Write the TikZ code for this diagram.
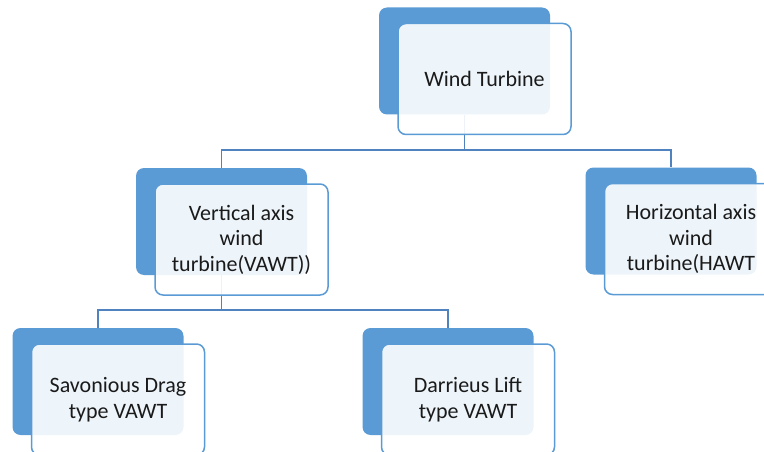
\documentclass[tikz,border=0pt]{standalone}
\usepackage{fontspec}
\setmainfont{Carlito}
\usetikzlibrary{positioning}
\definecolor{boxblue}{HTML}{5B9BD5}
\definecolor{lineblue}{HTML}{5182C0}
\definecolor{textgray}{HTML}{1A1A1A}
\tikzset{
  backbox/.style={fill=boxblue, rounded corners=8pt, minimum width=171pt, minimum height=107pt, inner sep=0pt},
  frontbox/.style={draw=boxblue, line width=1.5pt, fill=white, fill opacity=0.9, text opacity=1,
    rounded corners=8pt, minimum width=173pt, minimum height=111pt, inner sep=0pt,
    align=center, text=textgray, font=\fontsize{22}{25.5}\selectfont, xshift=20pt, yshift=-18pt},
  conn/.style={draw=lineblue, line width=1.7pt},
}
\begin{document}
\begin{tikzpicture}[x=1pt, y=-1pt]
        \useasboundingbox (0,0) rectangle (764,452);
        \clip (0,0) rectangle (764,452);

        % blue back plates
        \node[backbox] (wtback) at (464.5,61) {};
        \node[backbox] (vawtback) at (221.5,221.5) {};
        \node[backbox] (hawtback) at (671,221) {};
        \node[backbox] (savback) at (98,381.5) {};
        \node[backbox] (darback) at (448,381.5) {};

        % connectors
        \draw[conn] (wtback.south) -- ++(0,35) -| (vawtback.north);
        \draw[conn] (wtback.south) -- ++(0,35) -| (hawtback.north);
        \draw[conn] (vawtback.south) -- ++(0,35) -| (savback.north);
        \draw[conn] (vawtback.south) -- ++(0,35) -| (darback.north);

        % front boxes with the text
        \node[frontbox] (wt) at (wtback) {Wind Turbine};
        \node[frontbox] (vawt) at (vawtback) {Vertical axis\\wind\\turbine(VAWT))};
        \node[frontbox] (hawt) at (hawtback) {Horizontal axis\\wind\\turbine(HAWT};
        \node[frontbox] (sav) at (savback) {Savonious Drag\\type VAWT};
        \node[frontbox] (dar) at (darback) {Darrieus Lift\\type VAWT};

    \end{tikzpicture}
\end{document}
